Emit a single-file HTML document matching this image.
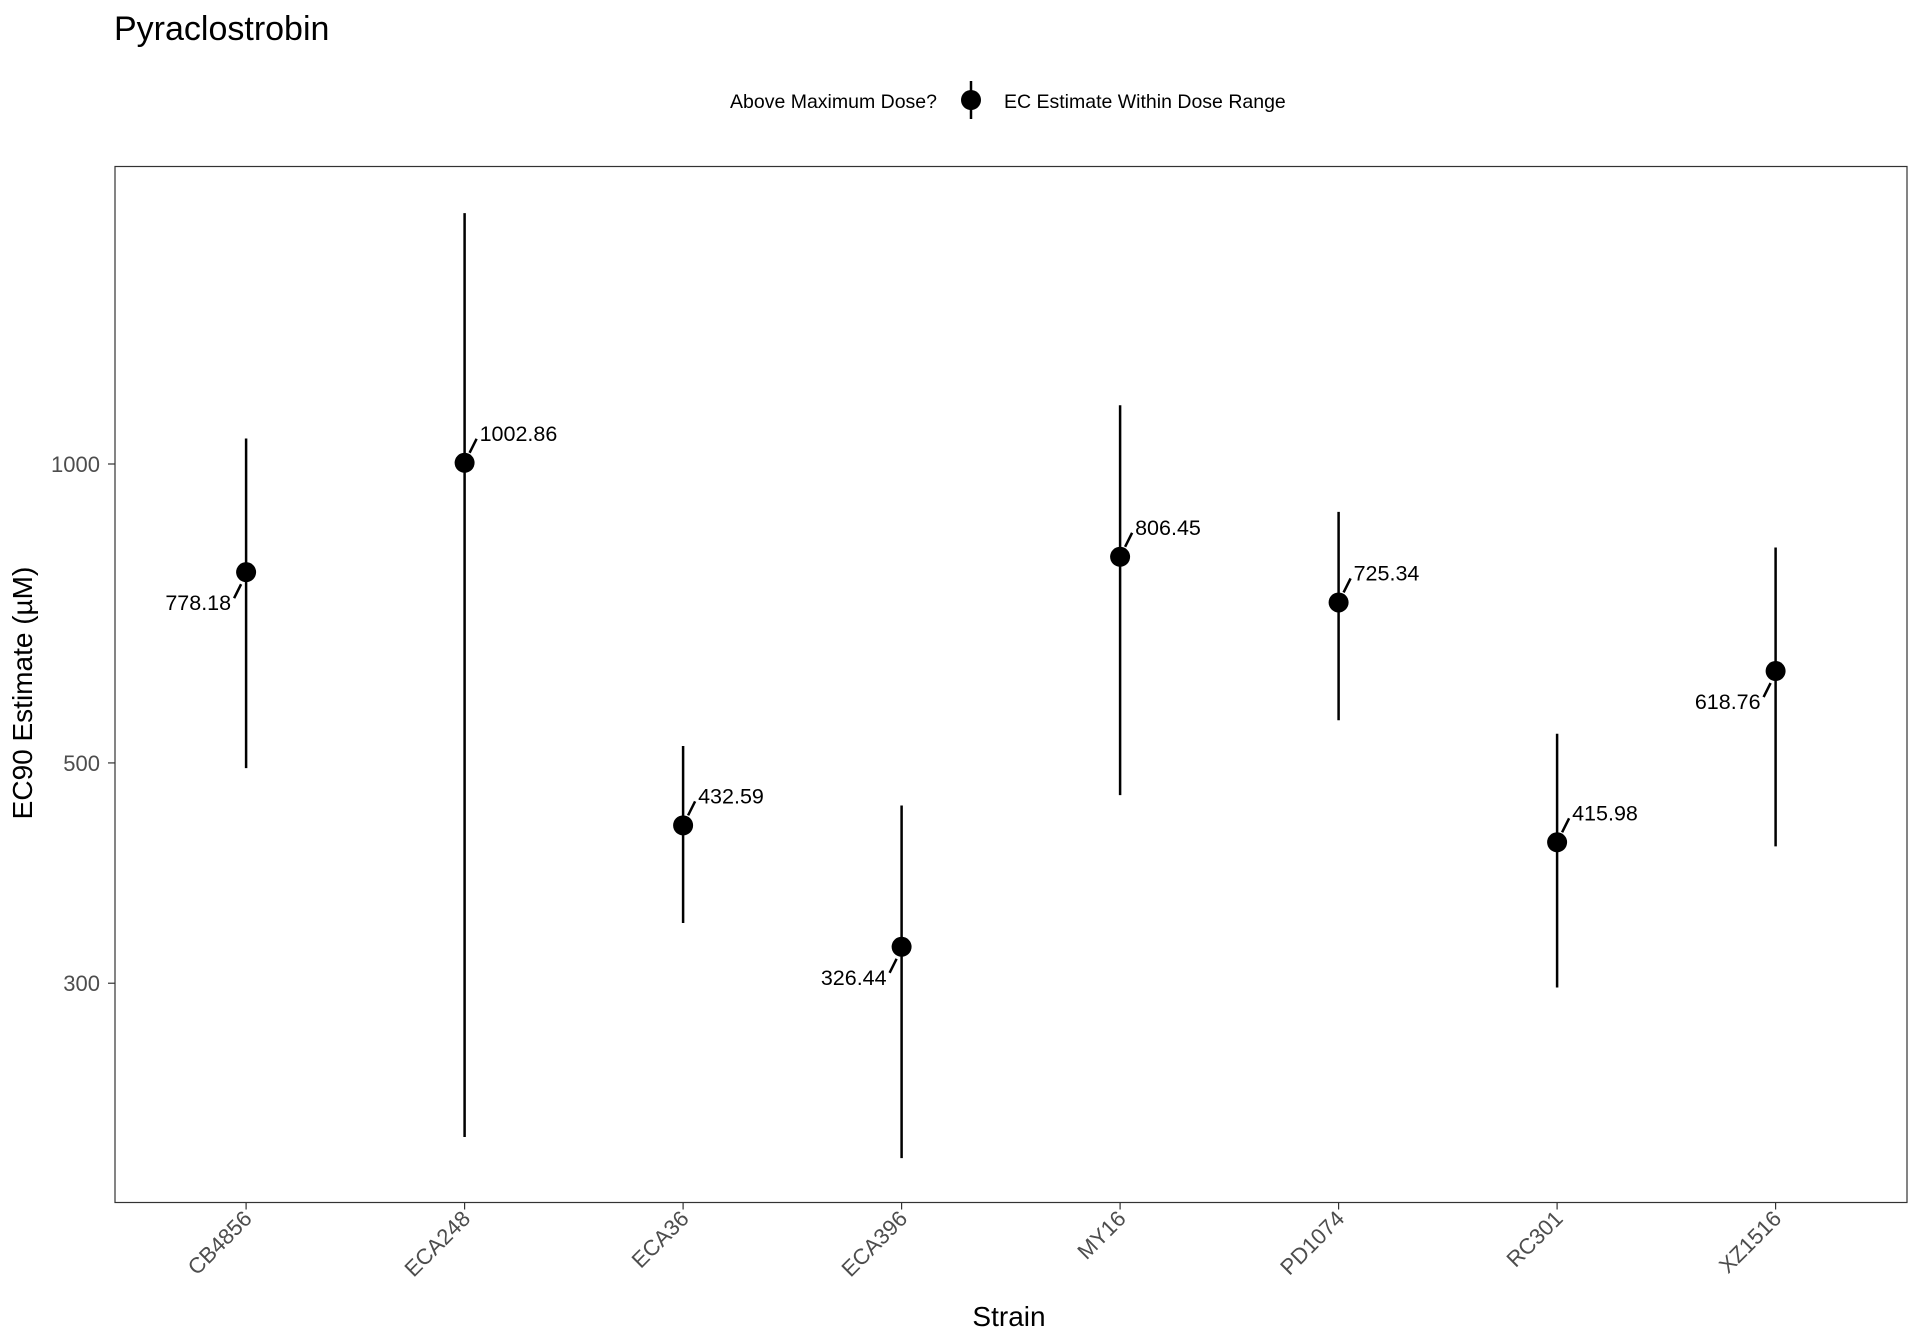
<!DOCTYPE html>
<html><head><meta charset="utf-8"><style>
body{margin:0;background:#fff}
svg{display:block;font-family:"Liberation Sans",Arial,sans-serif}
</style></head><body>
<svg id="chart" width="1920" height="1344" viewBox="0 0 1920 1344">
<text x="114" y="40" font-size="34" fill="#000">Pyraclostrobin</text>
<g>
<text x="937" y="108" font-size="19.5" text-anchor="end">Above Maximum Dose?</text>
<line x1="971" y1="81" x2="971" y2="119" stroke="#000" stroke-width="2.5"/>
<circle cx="971" cy="100" r="10" fill="#000"/>
<text x="1004" y="108" font-size="19.5">EC Estimate Within Dose Range</text>
</g>
<rect x="115" y="166.5" width="1792" height="1036" fill="none" stroke="#333" stroke-width="1.2"/>
<g id="yaxis"></g>
<g id="xaxis"></g>
<g id="marks"></g>
<text transform="translate(32,693) rotate(-90)" font-size="28" text-anchor="middle">EC90 Estimate (µM)</text>
<text x="1009" y="1326" font-size="28" text-anchor="middle">Strain</text>
</svg>
<script>
const strains=["CB4856","ECA248","ECA36","ECA396","MY16","PD1074","RC301","XZ1516"];
const estimates=[778.18,1002.86,432.59,326.44,806.45,725.34,415.98,618.76];
const upper=[1061,1789,520,453,1146,895,535,824];
const lower=[494,210,345,200,464,552,297,412];
const labelLeft=[true,false,false,true,false,false,false,true];
const yTicks=[300,500,1000];
const NS="http://www.w3.org/2000/svg";
function y(v){return 464-(Math.log10(v)-3)*993;}
function x(i){return 115+(i+0.6)*218.5;}
function mk(tag,attrs,parent){const e=document.createElementNS(NS,tag);for(const k in attrs)e.setAttribute(k,attrs[k]);parent.appendChild(e);return e;}
const ya=document.getElementById('yaxis'),xa=document.getElementById('xaxis'),mg=document.getElementById('marks');
yTicks.forEach(t=>{
 const l=mk('line',{x1:108,x2:115,y1:y(t),y2:y(t),stroke:'#333','stroke-width':1.2},ya);
 
 
 const tx=mk('text',{x:100,y:y(t)+8,'font-size':22,fill:'#4d4d4d','text-anchor':'end'},ya);
 tx.textContent=t;
 
 
});
strains.forEach((s,i)=>{
 const cx=x(i);
 const tk=mk('line',{x1:cx,x2:cx,y1:1202.5,y2:1209.5,stroke:'#333','stroke-width':1.2},xa);
 
 
 const tx=mk('text',{transform:`translate(${cx+7},${1220}) rotate(-45)`,'font-size':22,fill:'#4d4d4d','text-anchor':'end'},xa);
 tx.textContent=s;
 
 
 const eb=mk('line',{x1:cx,x2:cx,y1:y(upper[i]),y2:y(lower[i]),stroke:'#000','stroke-width':2.5},mg);
 
 
 const cy=y(estimates[i]);
 const pt=mk('circle',{cx:cx,cy:cy,r:10,fill:'#000'},mg);
 
 
 const d=labelLeft[i]?-1:1;
 const sg=mk('line',{x1:cx+d*5,y1:cy+(labelLeft[i]?12:-10),x2:cx+d*12,y2:cy+(labelLeft[i]?26:-24),stroke:'#000','stroke-width':2.5},mg);
 
 
 const lb=mk('text',{x:cx+d*15,y:labelLeft[i]?cy+38:cy-22,'font-size':21.5,'text-anchor':labelLeft[i]?'end':'start'},mg);
 lb.textContent=estimates[i].toFixed(2);
 
 
});
</script>
</body></html>
